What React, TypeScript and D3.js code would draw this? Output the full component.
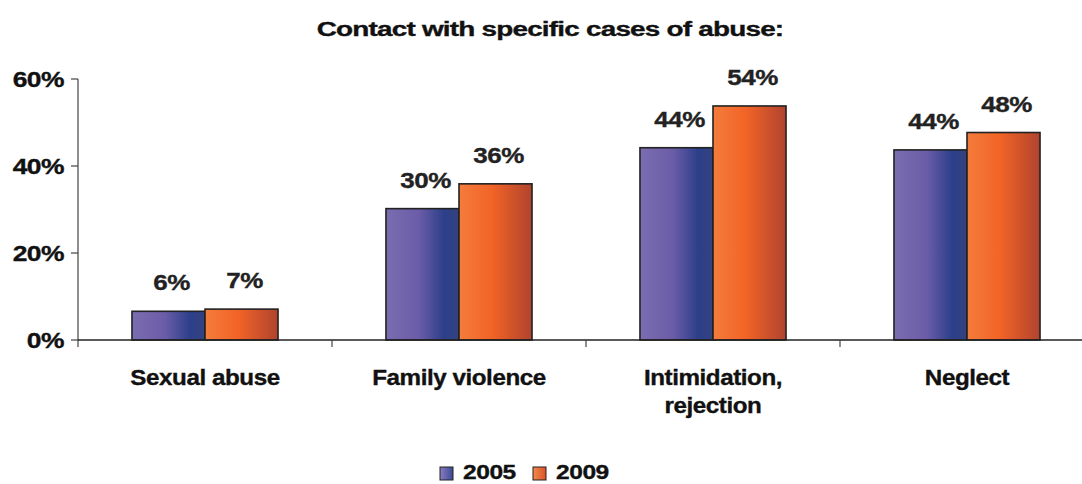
import React from "react";
import * as d3 from "d3";

// Chart data
const categories = ["Sexual abuse", "Family violence", "Intimidation,\nrejection", "Neglect"];
const seriesNames = ["2005", "2009"];
const values2005 = [6.6, 30.2, 44.2, 43.7];
const values2009 = [7.1, 35.9, 53.8, 47.7];
const labels2005 = ["6%", "30%", "44%", "44%"];
const labels2009 = ["7%", "36%", "54%", "48%"];
const yTicks = [0, 20, 40, 60];

const W = 1082;
const H = 484;
const left = 78;
const right = 1094;
const top = 79;
const bottom = 340;
const FONT = "'Liberation Sans', Arial, sans-serif";

const gradIds = ["g2005", "g2009"];
const swatchIds = ["s2005", "s2009"];

// text drawn wider than the font, like the original export
function Wide({ x, y, size, sx, anchor = "start", ls = 0, fill = "#111", children }: any) {
  return (
    <g transform={`translate(${x},${y}) scale(${sx},1)`}>
      <text
        x={0}
        y={0}
        textAnchor={anchor}
        fontFamily={FONT}
        fontWeight="bold"
        fontSize={size}
        letterSpacing={ls}
        fill={fill}
        stroke={fill}
        strokeWidth={0.35}
      >
        {children}
      </text>
    </g>
  );
}

export default function App() {
  const x0 = d3.scaleBand<string>().domain(categories).range([left, right]).paddingInner(0.425).paddingOuter(0.2125);
  const x1 = d3.scaleBand<string>().domain(seriesNames).range([0, x0.bandwidth()]);
  const y = d3.scaleLinear().domain([0, 60]).range([bottom, top]);
  const series = [values2005, values2009];
  const labels = [labels2005, labels2009];
  const step = x0.step();

  return (
    <svg width={W} height={H} style={{ position: "absolute", left: 0, top: 0, background: "#fff" }}>
      <defs>
        <linearGradient id="g2005" x1="0" x2="1" y1="0" y2="0">
          <stop offset="0" stopColor="#7b6db0" />
          <stop offset="0.45" stopColor="#6b5ca8" />
          <stop offset="0.8" stopColor="#2c3f8a" />
          <stop offset="1" stopColor="#34427e" />
        </linearGradient>
        <linearGradient id="g2009" x1="0" x2="1" y1="0" y2="0">
          <stop offset="0" stopColor="#f47c3c" />
          <stop offset="0.45" stopColor="#f26426" />
          <stop offset="1" stopColor="#b0432e" />
        </linearGradient>
        <linearGradient id="s2005" x1="0" x2="1">
          <stop offset="0" stopColor="#8a7cc0" />
          <stop offset="1" stopColor="#3a4a95" />
        </linearGradient>
        <linearGradient id="s2009" x1="0" x2="1">
          <stop offset="0" stopColor="#f58a4a" />
          <stop offset="1" stopColor="#d9532a" />
        </linearGradient>
      </defs>

      <Wide x={550} y={36} size={21} sx={1.33} anchor="middle" ls={-0.6}>
        Contact with specific cases of abuse:
      </Wide>

      {/* y axis */}
      <line x1={left} x2={left} y1={top} y2={bottom + 7} stroke="#444" strokeWidth={1.2} />
      {yTicks.map((t) => (
        <g key={t}>
          <line x1={left - 7} x2={left} y1={y(t)} y2={y(t)} stroke="#444" strokeWidth={1.2} />
          <Wide x={64} y={y(t) + 8} size={22} sx={1.2} anchor="end" ls={-0.4}>
            {t}%
          </Wide>
        </g>
      ))}

      {/* bars */}
      {categories.map((c, ci) =>
        series.map((vals, si) => {
          const bx = (x0(c) as number) + (x1(seriesNames[si]) as number);
          const bw = x1.bandwidth();
          const by = y(vals[ci]);
          return (
            <g key={c + si}>
              <rect x={bx} y={by} width={bw} height={bottom - by} fill={`url(#${gradIds[si]})`} stroke="#222" strokeWidth={1.6} />
              <Wide x={bx + bw / 2 + 3} y={by - 21} size={22} sx={1.18} anchor="middle" ls={-0.4} fill="#222">
                {labels[si][ci]}
              </Wide>
            </g>
          );
        })
      )}

      {/* x axis */}
      <line x1={left} x2={right} y1={bottom} y2={bottom} stroke="#222" strokeWidth={1.4} />
      {categories.map((c, ci) => {
        const tx = left + step * (ci + 1);
        return <line key={"t" + ci} x1={tx} x2={tx} y1={bottom} y2={bottom + 7} stroke="#444" strokeWidth={1.2} />;
      })}
      {categories.map((c) => {
        const cx = (x0(c) as number) + x0.bandwidth() / 2;
        return c.split("\n").map((line, i) => (
          <Wide key={"l" + c + i} x={cx} y={385 + i * 28} size={22} sx={1.1} anchor="middle" ls={-0.4}>
            {line}
          </Wide>
        ));
      })}

      {/* legend */}
      {seriesNames.map((s, i) => {
        const lx = 440 + i * 93;
        return (
          <g key={s}>
            <rect x={lx} y={467} width={13} height={13} fill={`url(#${swatchIds[i]})`} stroke="#222" strokeWidth={1} />
            <Wide x={lx + 23} y={479} size={21} sx={1.17} ls={-0.4}>
              {s}
            </Wide>
          </g>
        );
      })}
    </svg>
  );
}
